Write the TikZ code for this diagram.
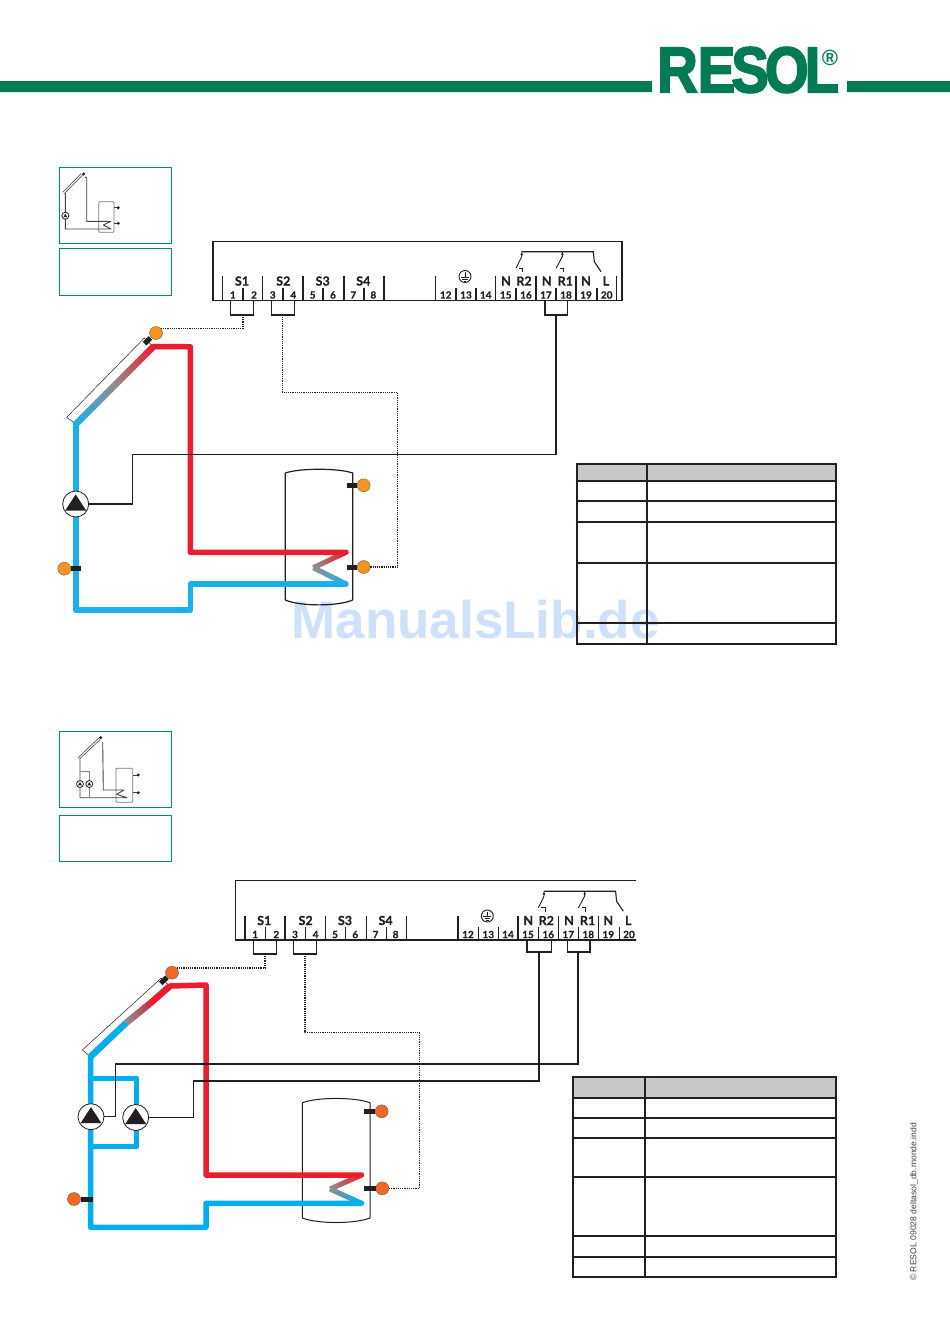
\documentclass[tikz,border=0pt]{standalone}
\usepackage{fontspec}
\usepackage{graphicx}
\usetikzlibrary{calc}
\setmainfont{Lato}[BoldFeatures={FakeBold=0.5}]
\newfontfamily\logofont[FakeBold=3]{Liberation Sans Bold}
\newfontfamily\wmfont{Liberation Sans}
\newfontfamily\footfont{Liberation Sans}
\definecolor{resolgreen}{HTML}{007A53}
\definecolor{teal}{HTML}{00857A}
\definecolor{pipered}{HTML}{ED1C2E}
\definecolor{pipeblue}{HTML}{1CB0EA}
\definecolor{pipeblueb}{HTML}{00AEEF}
\definecolor{sensorA}{HTML}{F7941D}
\definecolor{sensorB}{HTML}{F26A21}
\definecolor{ink}{HTML}{231F20}
\definecolor{midgrey}{HTML}{8F8F90}
\definecolor{redgrey}{HTML}{C43040}
\definecolor{tablehead}{HTML}{C8C8C8}
\definecolor{wm}{HTML}{CFE0FA}
\tikzset{
  framebox/.style={draw=teal,line width=1.2pt},
  iconline/.style={draw=ink!85,line width=0.9pt,line join=round},
  termline/.style={draw=ink,line width=1.1pt},
  wire/.style={draw=ink,line width=1.2pt,line join=miter},
  dotwire/.style={draw=ink,line width=1.2pt,dash pattern=on 1.2pt off 1pt},
  redpipe/.style={draw=pipered,line width=5.5pt,line join=round,line cap=round},
  bluepipe/.style={draw=pipeblue,line width=5.5pt,line join=round,line cap=round},
  sensor/.style={circle,draw=ink!70,line width=0.4pt,minimum size=13pt,inner sep=0pt},
  stub/.style={draw=ink,line width=5pt},
  pumpbody/.style={circle,draw=ink,fill=white,line width=0.8pt,minimum size=26pt,inner sep=0pt},
  tanktop/.style={draw=ink,line width=1.2pt,line join=round},
  big/.style={font=\fontsize{12.5}{12}\selectfont\bfseries,inner sep=0pt,text=ink},
  num/.style={font=\fontsize{10}{10}\selectfont\bfseries,inner sep=0pt,text=ink},
  tableline/.style={draw=ink,line width=1.5pt},
}
\newcommand{\gradpipe}[5]{%
  \foreach \kk in {1,...,30}{%
    \pgfmathsetmacro\gA{(\kk-1)/30}%
    \pgfmathsetmacro\gB{min(1,(\kk+0.3)/30)}%
    \pgfmathsetmacro\gM{100*(\kk-0.5)/30}%
    \draw[line width=#5,color={#4!\gM!#3}] ($(#1)!\gA!(#2)$) -- ($(#1)!\gB!(#2)$);
  }%
}
\newcommand{\pumpsym}[2]{%
  \node[pumpbody] (#1) at (#2) {};
  \fill[ink] ($(#2)+(0,-9.5)$) -- ($(#2)+(10.5,6.5)$) -- ($(#2)+(-10.5,6.5)$) -- cycle;
}
\newcommand{\strip}{%
  \foreach \x in {222.7,262.7,303,344,384,435.7,495.7,536,576,616.7}{\draw[termline] (\x,276) -- (\x,300.5);}
  \foreach \x in {243,283,323,364,456,476,516,556,597}{\draw[termline] (\x,287.5) -- (\x,300.5);}
  \foreach \t/\x in {S1/242,S2/283.3,S3/322.7,S4/363.3,R2/524,R1/565.3,L/606}{\node[big] (top\t) at (\x,281) {\t};}
  \node[big] (topNa) at (506,281) {N};
  \node[big] (topNb) at (546.7,281) {N};
  \node[big] (topNc) at (586,281) {N};
  \foreach \t/\x in {1/232.8,2/254,3/272.7,4/293.3,5/312.7,6/333,7/353.3,8/373.3,12/445.7,13/466,14/485.7,15/505.7,16/526,17/546,18/566,19/586,20/606.7}{\node[num] (term\t) at (\x,295) {\t};}
  % earth symbol
  \draw[ink,line width=0.9pt] (465,276.5) circle (6);
  \draw[ink,line width=0.8pt] (465,272) -- (465,277) (461,277) -- (469,277) (462.3,279) -- (467.7,279) (463.8,281) -- (466.2,281);
  % relay contacts
  \draw[ink,line width=1.1pt] (521.7,251.7) -- (593.3,251.7) -- (594.3,261.7) -- (601,271.7);
  \draw[ink,line width=0.9pt] (521.7,251.7) -- (521.7,256.7) -- (516,268.3);
  \draw[ink,line width=0.9pt] (562.3,251.7) -- (562.3,256.7) -- (556,268.3);
  \fill[ink] (521.7,254.5) circle (1.3) (562.3,254.5) circle (1.3);
  \draw[ink,line width=0.7pt] (519,268.3) -- (522.7,268.3) -- (522.7,272);
  \draw[ink,line width=0.7pt] (559.5,268.3) -- (563,268.3) -- (563,272);
}
\begin{document}
\begin{tikzpicture}[x=1pt,y=-1pt]
\useasboundingbox (0,0) rectangle (950,1344);
\fill[white] (0,0) rectangle (950,1344);
% watermark
\node[font=\wmfont\bfseries\fontsize{53}{53}\selectfont,text=wm,inner sep=0pt] (watermark) at (475.5,620) {ManualsLib.de};
% header
\fill[resolgreen] (0,81) rectangle (652,92) (847,81) rectangle (950,92);
\node[inner sep=0pt,text=resolgreen,anchor=south west] (logo) at (657,93) {\resizebox{183pt}{45pt}{\logofont RE\kern-0.07em S\kern-0.07em O\kern-0.07em L\kern0.02em}};
\node[inner sep=0pt,text=resolgreen,font=\wmfont\bfseries\fontsize{22}{22}\selectfont] (logoreg) at (830,57.5) {®};
% icon 1
\draw[framebox] (59.5,167.5) rectangle (171.5,243.5);
\draw[framebox] (59.5,248.5) rectangle (171.5,295.5);
\draw[draw=ink!60,line width=0.8pt,rounded corners=1pt] (98.7,201.7) rectangle (114,232.3);
\draw[iconline,line width=2.6pt] (63.6,192.9) -- (81.7,174.5);
\draw[draw=white,line width=1.1pt] (63.6,192.9) -- (81.7,174.5);
\fill[ink] (83.7,174) circle (1.7);
\draw[iconline] (85,177.3) -- (86.7,177.3) -- (86.7,221.3) -- (111,221.3) -- (103.3,225) -- (111,229) -- (65.3,229) -- (65.3,193.3);
\node[circle,draw=ink,fill=white,line width=0.8pt,minimum size=7pt,inner sep=0pt] (iconApump) at (65.3,215.7) {};
\fill[ink] (65.3,213.7) -- (67.2,217) -- (63.4,217) -- cycle;
\draw[iconline] (114,207.7) -- (118.3,207.7) (114,223.3) -- (118.3,223.3);
\fill[ink] (118.3,207.7) circle (1.6) (118.3,223.3) circle (1.6);
% icon 2
\draw[framebox] (59.5,731.5) rectangle (171.5,807.5);
\draw[framebox] (59.5,815.5) rectangle (171.5,861.5);
\draw[draw=ink!60,line width=0.8pt,rounded corners=1pt] (116,768.3) rectangle (132.7,802.3);
\draw[iconline,line width=2.6pt] (78.6,758.5) -- (99.3,739);
\draw[draw=white,line width=1.1pt] (78.6,758.5) -- (99.3,739);
\fill[ink] (100.7,737.7) circle (1.7);
\draw[iconline] (102.7,742) -- (103.3,790) -- (124,790) -- (116.7,794.3) -- (127,797.7) -- (80,797.7) -- (80,759.3);
\draw[draw=ink!55,line width=0.9pt] (80,771) -- (89.3,771) -- (89.3,797.7);
\node[circle,draw=ink,fill=white,line width=0.8pt,minimum size=7pt,inner sep=0pt] (iconBpumpa) at (80,784) {};
\node[circle,draw=ink,fill=white,line width=0.8pt,minimum size=7pt,inner sep=0pt] (iconBpumpb) at (89.3,784) {};
\fill[ink] (80,782) -- (81.9,785.3) -- (78.1,785.3) -- cycle (89.3,782) -- (91.2,785.3) -- (87.4,785.3) -- cycle;
\draw[iconline] (132.7,775) -- (138.3,775) (132.7,792.7) -- (138.3,792.7);
\fill[ink] (138.3,775) circle (1.6) (138.3,792.7) circle (1.6);
%
% ===== diagram 1 =====
\begin{scope}[name prefix=a-]
\draw[ink,line width=1.2pt] (213,241.5) rectangle (622,300.5);
\strip
\coordinate (s1l) at (230.7,300.5); \coordinate (s1r) at (253.3,300.5);
\coordinate (s2l) at (271.7,300.5); \coordinate (s2r) at (294.3,300.5);
\coordinate (r1l) at (545,300.5); \coordinate (r1r) at (567.3,300.5);
\coordinate (s1d) at (243,315); \coordinate (s2d) at (282.7,315); \coordinate (r1d) at (556,315);
\draw[termline] (s1l) -- (230.7,315) -- (253.3,315) -- (s1r);
\draw[termline] (s2l) -- (271.7,315) -- (294.3,315) -- (s2r);
\draw[termline] (r1l) -- (545,315) -- (567.3,315) -- (r1r);
% collector
\draw[ink,line width=0.5pt,fill=white] (66.7,417.3) -- (144.3,338) -- (153.3,346.7) -- (76,424) -- cycle;
\coordinate (colA) at (76,424); \coordinate (colM) at (114.7,385.2); \coordinate (colB) at (153.5,346.5);
\gradpipe{colA}{colM}{pipeblue}{midgrey}{6.5pt}
\gradpipe{colM}{colB}{midgrey}{pipered}{6.5pt}
% storage
\draw[tanktop] (285.3,473) .. controls (300,468) and (338,468) .. (352.7,473) -- (352.7,600) .. controls (338,606.5) and (300,606.5) .. (285.3,600) -- cycle;
% pipes
\coordinate (hxA) at (346,552.3); \coordinate (hxB) at (313.3,567.7); \coordinate (hxC) at (346,584);
\gradpipe{hxA}{hxB}{pipered}{midgrey}{5pt}
\gradpipe{hxB}{hxC}{midgrey}{pipeblue}{5pt}
\draw[redpipe] (colB) -- (190.3,346.7) -- (190.3,552.3) -- (hxA);
\draw[bluepipe] (hxC) -- (190.3,584) -- (190.3,610) -- (76,610) -- (colA);
% pump
\pumpsym{pump}{75.7,504}
% wires
\draw[wire] (pump.east) -| (132.3,454.7) -- (556,454.7) -- (r1d);
% sensors
\node[sensor,fill=sensorA] (tc) at (156,333) {};
\node[sensor,fill=sensorA] (tst) at (363.7,485.3) {};
\node[sensor,fill=sensorA] (tsb) at (363.7,567) {};
\node[sensor,fill=sensorA] (tr) at (64.3,568.7) {};
\draw[stub] (144.6,343.6) -- (150.5,337.8);
\draw[stub] (347,485.3) -- (tst.west);
\draw[stub] (347,567) -- (tsb.west);
\draw[stub] (tr.east) -- (80.7,568.7);
\draw[dotwire] (tc.north east) -| (s1d);
\draw[dotwire] (tsb.east) -- (397.7,567) -- (397.7,392.7) -- (282.7,392.7) -- (s2d);
\end{scope}
%
% ===== diagram 2 =====
\begin{scope}[name prefix=b-,shift={(22.3,639.5)}]
\clip (200,230) rectangle (613.7,310);
\draw[ink,line width=1.2pt] (613.7,241) -- (213.4,241) -- (213.4,300.5) -- (613.7,300.5);
\strip
\end{scope}
\begin{scope}[name prefix=b-]
\coordinate (s1l) at (253.3,940); \coordinate (s1r) at (276.3,940);
\coordinate (s2l) at (293.7,940); \coordinate (s2r) at (316.7,940);
\coordinate (r2l) at (527,940); \coordinate (r2r) at (551.7,940);
\coordinate (r1l) at (567.3,940); \coordinate (r1r) at (590,940);
\coordinate (s1d) at (265,954); \coordinate (s2d) at (305,954); \coordinate (r2d) at (539,952); \coordinate (r1d) at (578,952);
\draw[termline] (s1l) -- (253.3,954) -- (276.3,954) -- (s1r);
\draw[termline] (s2l) -- (293.7,954) -- (316.7,954) -- (s2r);
\draw[termline] (r2l) -- (527,952) -- (551.7,952) -- (r2r);
\draw[termline] (r1l) -- (567.3,952) -- (590,952) -- (r1r);
% collector
\draw[ink,line width=0.5pt,fill=white] (82.3,1050) -- (161,978.3) -- (170,986) -- (90.7,1056.7) -- cycle;
\coordinate (colA) at (90.5,1056.7); \coordinate (colG) at (126,1023); \coordinate (colH) at (150,1003.5); \coordinate (colB) at (170,986);
\draw[pipeblueb,line width=6.5pt] (colA) -- (colG);
\gradpipe{colG}{colH}{midgrey}{redgrey}{6.5pt}
\draw[pipered,line width=6.5pt] (colH) -- (colB);
% storage
\draw[tanktop,line width=1pt] (302.3,1102.7) .. controls (318,1097) and (354,1097) .. (370,1102.7) -- (370,1218) .. controls (354,1224) and (318,1224) .. (302.3,1218) -- cycle;
% pipes
\coordinate (hxA) at (361.5,1175); \coordinate (hxB) at (330,1189); \coordinate (hxC) at (361.5,1203.3);
\gradpipe{hxA}{hxB}{pipered}{midgrey}{5pt}
\gradpipe{hxB}{hxC}{midgrey}{pipeblueb}{5pt}
\draw[redpipe] (colB) -- (206,985) -- (206,1175) -- (hxA);
\draw[bluepipe,draw=pipeblueb] (hxC) -- (206,1203.3) -- (206,1227.3) -- (90.7,1227.3) -- (colA);
\draw[bluepipe,draw=pipeblueb] (90.7,1078.3) -- (136.7,1078.3) -- (136.7,1146.7) -- (90.7,1146.7);
% pumps
\pumpsym{pumpa}{91,1116.7}
\pumpsym{pumpb}{135.7,1117.5}
\draw[wire] (pumpa.east) -| (115.3,1064) -- (578,1064) -- (r1d);
\draw[wire] (pumpb.east) -| (193.3,1081) -- (539,1081) -- (r2d);
% sensors
\node[sensor,fill=sensorB] (tc) at (172,972.7) {};
\node[sensor,fill=sensorB] (tst) at (381.7,1111.3) {};
\node[sensor,fill=sensorB] (tsb) at (382.3,1188.3) {};
\node[sensor,fill=sensorB] (tr) at (74,1199) {};
\draw[stub] (160.7,983.3) -- (167,977.3);
\draw[stub] (364,1111.3) -- (tst.west);
\draw[stub] (364,1188.3) -- (tsb.west);
\draw[stub] (tr.east) -- (92.7,1199);
\draw[dotwire] (tc.north east) -| (s1d);
\draw[dotwire] (tsb.east) -- (419.3,1188.3) -- (419.3,1032.7) -- (305,1032.7) -- (s2d);
\end{scope}
%
% ===== tables =====
\fill[tablehead] (577,464) rectangle (836,481);
\draw[tableline] (577,464) rectangle (836,644);
\draw[tableline] (647,464) -- (647,644);
\foreach \y in {481,501,522,563,623}{\draw[tableline] (577,\y) -- (836,\y);}
\fill[tablehead] (573,1077) rectangle (836,1098);
\draw[tableline] (573,1077) rectangle (836,1277);
\draw[tableline] (645,1077) -- (645,1277);
\foreach \y in {1098,1118,1138,1177,1236,1257}{\draw[tableline] (573,\y) -- (836,\y);}
% footer
\node[rotate=90,font=\footfont\fontsize{8.6}{8.6}\selectfont,text=ink!85,inner sep=0pt,anchor=west] (footer) at (914,1281) {© RESOL 09028 deltasol\_db.monde.indd};
\end{tikzpicture}
\end{document}
